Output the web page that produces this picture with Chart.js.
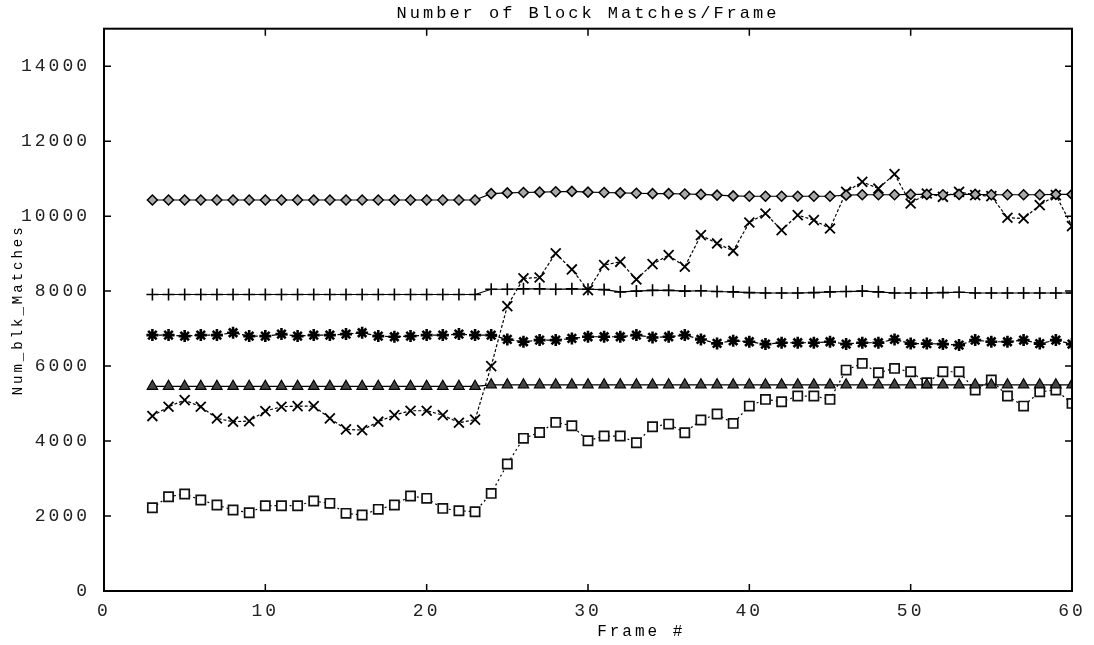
<!DOCTYPE html>
<html>
<head>
<meta charset="utf-8">
<script src="https://cdn.jsdelivr.net/npm/chart.js@4.4.1/dist/chart.umd.min.js"></script>
<style>
  html, body { margin: 0; padding: 0; background: #fff; }
  #wrap { width: 1094px; height: 645px; position: relative; }
</style>
</head>
<body>
<div id="wrap"><canvas id="blk"></canvas></div>
<script>
// ===== DATA (frame # 3..60) =====
const frames = [3, 4, 5, 6, 7, 8, 9, 10, 11, 12, 13, 14, 15, 16, 17, 18, 19, 20, 21, 22, 23,
    24, 25, 26, 27, 28, 29, 30, 31, 32, 33, 34, 35, 36, 37, 38, 39, 40, 41, 42,
    43, 44, 45, 46, 47, 48, 49, 50, 51, 52, 53, 54, 55, 56, 57, 58, 59, 60];

const diamonds = [10430, 10430, 10430, 10430, 10430, 10430, 10430, 10430, 10430, 10430, 10430,
    10430, 10430, 10430, 10430, 10430, 10430, 10430, 10430, 10430, 10430,
    10600, 10620, 10630, 10640, 10650, 10660, 10640, 10630, 10620, 10610, 10600, 10600, 10590,
    10580, 10560, 10540, 10530, 10530, 10530, 10530, 10530, 10530, 10560, 10570, 10570, 10570,
    10580, 10580, 10570, 10580, 10580, 10570, 10570, 10570, 10570, 10580, 10580];

const crosses = [4667, 4915, 5093, 4915, 4604, 4516, 4533, 4800, 4915, 4933, 4933, 4604, 4311,
    4293, 4516, 4693, 4809, 4809, 4693, 4489, 4570,
    6000, 7600, 8338, 8364, 9005, 8578, 8027, 8693, 8782, 8311, 8720, 8960, 8649, 9493, 9271,
    9075, 9830, 10071, 9627, 10027, 9893, 9671, 10649, 10916, 10738, 11120, 10338, 10604,
    10516, 10649, 10560, 10533, 9956, 9938, 10293, 10560, 9733];

const pluses = [7910, 7910, 7910, 7910, 7910, 7910, 7910, 7910, 7910, 7910, 7910, 7910, 7910,
    7910, 7910, 7910, 7910, 7910, 7910, 7910, 7910,
    8050, 8050, 8060, 8060, 8050, 8060, 8050, 8040, 7980, 8000, 8020, 8020, 8000, 8010, 7990,
    7980, 7960, 7950, 7950, 7950, 7960, 7980, 7990, 8000, 7980, 7950, 7950, 7950, 7960, 7970,
    7950, 7950, 7950, 7950, 7950, 7950, 7950];

const stars = [6827, 6827, 6800, 6827, 6827, 6889, 6800, 6800, 6853, 6800, 6827, 6827, 6853,
    6889, 6800, 6782, 6800, 6827, 6827, 6853, 6827,
    6827, 6711, 6649, 6693, 6693, 6738, 6782, 6782, 6782, 6827, 6764, 6782, 6827, 6711, 6605,
    6676, 6649, 6587, 6622, 6622, 6622, 6649, 6587, 6622, 6622, 6711, 6600, 6600, 6587, 6560,
    6693, 6649, 6649, 6693, 6600, 6693, 6587];

const triangles = [5460, 5460, 5460, 5460, 5460, 5460, 5460, 5460, 5460, 5460, 5460, 5460, 5460,
    5460, 5460, 5460, 5460, 5460, 5460, 5460, 5460,
    5500, 5500, 5500, 5500, 5500, 5500, 5500, 5500, 5500, 5500, 5500, 5500, 5500, 5500, 5500,
    5500, 5500, 5500, 5500, 5500, 5500, 5500, 5500, 5500, 5500, 5500, 5500, 5500, 5500, 5500,
    5500, 5500, 5500, 5500, 5500, 5500, 5500];

const squares = [2222, 2516, 2587, 2427, 2293, 2160, 2089, 2276, 2276, 2276, 2400, 2338, 2071,
    2027, 2178, 2293, 2533, 2471, 2204, 2142, 2115,
    2604, 3387, 4072, 4230, 4498, 4409, 4009, 4133, 4133, 3956, 4382, 4453, 4222, 4560, 4720,
    4471, 4933, 5111, 5049, 5200, 5200, 5111, 5893, 6071, 5822, 5938, 5849, 5555, 5849, 5849,
    5360, 5627, 5200, 4933, 5316, 5360, 5004];

const xTickValues = [0, 10, 20, 30, 40, 50, 60];
const yTickValues = [0, 2000, 4000, 6000, 8000, 10000, 12000, 14000];

// ===== HELPERS =====
function pts(values) {
    return frames.map((f, i) => ({ x: f, y: values[i] }));
}

const monoFont = "'Liberation Mono', 'DejaVu Sans Mono', monospace";

// gnuplot style frame with inward ticks on all four sides
const framePlugin = {
    id: 'frame',
    beforeDraw(chart) {
        chart.ctx.letterSpacing = '3px';
    },
    afterDatasetsDraw(chart) {
        const ctx = chart.ctx;
        const a = chart.chartArea;
        const xs = chart.scales.x, ys = chart.scales.y;
        const len = 7;
        ctx.save();
        ctx.strokeStyle = '#000';
        ctx.lineWidth = 1.5;
        xs.ticks.forEach(t => {
            const px = xs.getPixelForValue(t.value);
            ctx.beginPath();
            ctx.moveTo(px, a.bottom); ctx.lineTo(px, a.bottom - len);
            ctx.moveTo(px, a.top); ctx.lineTo(px, a.top + len);
            ctx.stroke();
        });
        ys.ticks.forEach(t => {
            const py = ys.getPixelForValue(t.value);
            ctx.beginPath();
            ctx.moveTo(a.left, py); ctx.lineTo(a.left + len, py);
            ctx.moveTo(a.right, py); ctx.lineTo(a.right - len, py);
            ctx.stroke();
        });
        ctx.lineWidth = 2;
        ctx.strokeRect(a.left, a.top, a.right - a.left, a.bottom - a.top);

        // x label sits a bit right of centre in the original plot
        ctx.fillStyle = '#000';
        ctx.font = '16px ' + monoFont;
        ctx.textAlign = 'center';
        ctx.textBaseline = 'middle';
        ctx.fillText('Frame #', a.left + (a.right - a.left) * 0.555, 632);
        ctx.restore();
    }
};

const lineBase = { showLine: true, borderColor: '#000', borderWidth: 1.2, tension: 0, fill: false };

const ctx = document.getElementById('blk').getContext('2d');
new Chart(ctx, {
    type: 'scatter',
    data: {
        datasets: [
            { ...lineBase, label: 'diamond', data: pts(diamonds), pointStyle: 'rectRot', pointRadius: 5,
              pointBackgroundColor: '#a8a8a8', pointBorderColor: '#000', pointBorderWidth: 1.5 },
            { ...lineBase, label: 'cross', data: pts(crosses), pointStyle: 'crossRot', pointRadius: 7,
              pointBorderColor: '#000', pointBorderWidth: 1.8, borderDash: [3, 2] },
            { ...lineBase, label: 'plus', data: pts(pluses), pointStyle: 'cross', pointRadius: 6,
              pointBorderColor: '#000', pointBorderWidth: 1.6 },
            { ...lineBase, label: 'star', data: pts(stars), pointStyle: 'star', pointRadius: 6,
              pointBorderColor: '#000', pointBorderWidth: 2.6, borderDash: [4, 2] },
            { ...lineBase, label: 'triangle', data: pts(triangles), pointStyle: 'triangle', pointRadius: 6,
              pointBackgroundColor: '#444', pointBorderColor: '#000', pointBorderWidth: 1.2 },
            { ...lineBase, label: 'square', data: pts(squares), pointStyle: 'rect', pointRadius: 6.5,
              pointBackgroundColor: '#fff', pointBorderColor: '#111', pointBorderWidth: 1.7, borderDash: [2, 3] }
        ]
    },
    options: {
        responsive: true,
        maintainAspectRatio: false,
        animation: false,
        layout: { padding: { left: 0, right: 22, top: 0, bottom: 0 } },
        plugins: {
            legend: { display: false },
            tooltip: { enabled: false },
            title: {
                display: true,
                fullSize: false,
                text: 'Number of Block Matches/Frame',
                color: '#000',
                font: { family: monoFont, size: 17, weight: 'normal', lineHeight: 1.1 },
                padding: { top: 4, bottom: 6 }
            }
        },
        scales: {
            x: {
                type: 'linear',
                min: 0, max: 60,
                grid: { display: false, drawTicks: false },
                border: { display: false },
                afterBuildTicks(scale) { scale.ticks = xTickValues.map(v => ({ value: v })); },
                ticks: { color: '#222', padding: 9, font: { family: monoFont, size: 18 },
                         callback: v => String(v) },
                title: { display: false },
                afterFit(scale) { scale.height = 54; }
            },
            y: {
                min: 0, max: 15000,
                grid: { display: false, drawTicks: false },
                border: { display: false },
                afterBuildTicks(scale) { scale.ticks = yTickValues.map(v => ({ value: v })); },
                ticks: { color: '#222', padding: 14, font: { family: monoFont, size: 18 },
                         callback: v => String(v) },
                title: { display: true, text: 'Num_blk_Matches', color: '#000', padding: { top: 10, bottom: 0 },
                         font: { family: monoFont, size: 14 } },
                afterFit(scale) { scale.width = 104; }
            }
        }
    },
    plugins: [framePlugin]
});
</script>
</body>
</html>
